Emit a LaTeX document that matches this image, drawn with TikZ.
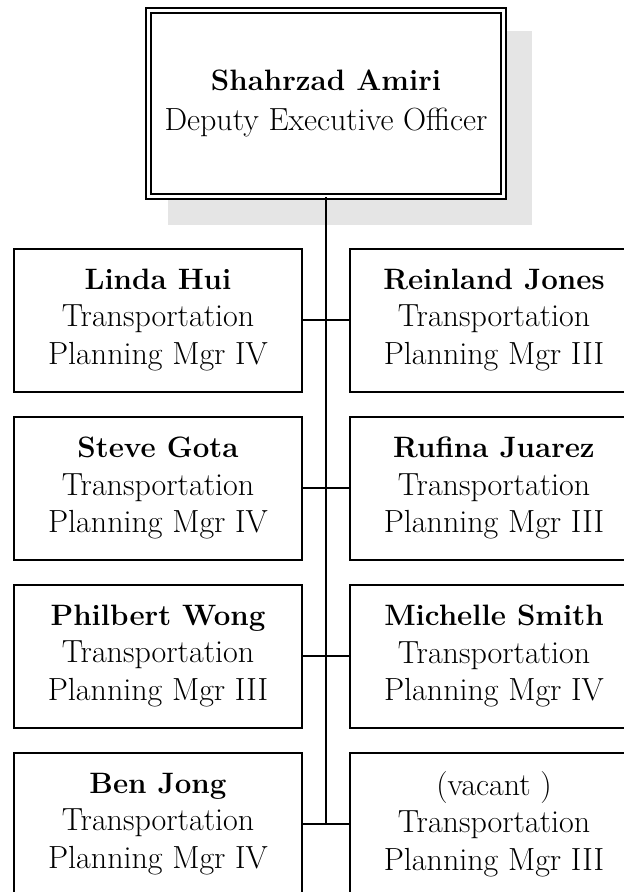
\documentclass[tikz,border=0pt]{standalone}
\usepackage{fontspec}
\newcommand{\nm}[1]{{\fontsize{29.5}{37.5}\selectfont\bfseries #1}}
\begin{document}
\begin{tikzpicture}[x=1pt,y=-1pt,
  txt/.style={font=\fontsize{32}{37.5}\selectfont, align=center, inner sep=0pt},
  emp/.style={txt, draw, line width=2pt, minimum width=288pt, minimum height=143pt},
  conn/.style={line width=2pt}]
\useasboundingbox (0,0) rectangle (624,892);
\clip (0,0) rectangle (624,892);
\fill[black!10] (168,31) rectangle (532,225);
\node[txt, font=\fontsize{32}{40}\selectfont, draw, fill=white, double=white, double distance=3pt, line width=1.8pt,
  minimum width=355pt, minimum height=186pt] (top) at (326,103.5)
  {{\fontsize{29.5}{40}\selectfont\bfseries Shahrzad Amiri}\\Deputy Executive Officer};
\node[emp] (L1) at (158,320) {\nm{Linda Hui}\\Transportation\\Planning Mgr IV};
\node[emp] (R1) at (494,320) {\nm{Reinland Jones}\\Transportation\\Planning Mgr III};
\node[emp] (L2) at (158,488) {\nm{Steve Gota}\\Transportation\\Planning Mgr IV};
\node[emp] (R2) at (494,488) {\nm{Rufina Juarez}\\Transportation\\Planning Mgr III};
\node[emp] (L3) at (158,656) {\nm{Philbert Wong}\\Transportation\\Planning Mgr III};
\node[emp] (R3) at (494,656) {\nm{Michelle Smith}\\Transportation\\Planning Mgr IV};
\node[emp] (L4) at (158,824) {\nm{Ben Jong}\\Transportation\\Planning Mgr IV};
\node[emp] (R4) at (494,824) {(vacant )\\Transportation\\Planning Mgr III};
\coordinate (bot) at (326,824);
\draw[conn] (top.south) -- (bot);
\draw[conn] (L1.east) -- (R1.west);
\draw[conn] (L2.east) -- (R2.west);
\draw[conn] (L3.east) -- (R3.west);
\draw[conn] (L4.east) -- (R4.west);
\end{tikzpicture}
\end{document}
